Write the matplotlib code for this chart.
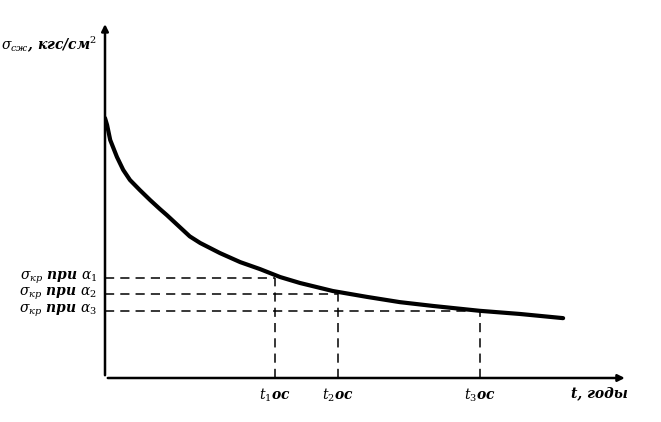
import matplotlib.pyplot as plt

# relaxation curve (arbitrary units)
t_vals = [0.00, 0.04, 0.10, 0.23, 0.35, 0.48, 0.67, 0.87, 1.06, 1.19, 1.63, 1.83,
          2.21, 2.60, 2.98, 3.37, 3.75, 4.38, 5.04, 5.67, 6.31, 7.21, 7.98, 8.81]
sigma_vals = [7.47, 7.27, 6.84, 6.35, 5.98, 5.69, 5.40, 5.11, 4.85, 4.68, 4.07, 3.88,
              3.59, 3.33, 3.13, 2.90, 2.73, 2.50, 2.33, 2.18, 2.07, 1.93, 1.84, 1.72]

# critical points t_i ос / σкр при α_i
t_crit = [3.27, 4.48, 7.21]
sigma_crit = [2.87, 2.41, 1.93]
y_labels = [r'$\sigma_{кр}$ при $\alpha_1$', r'$\sigma_{кр}$ при $\alpha_2$', r'$\sigma_{кр}$ при $\alpha_3$']
x_labels = [r'$t_1$ос', r'$t_2$ос', r'$t_3$ос']

plt.rcParams['mathtext.fontset'] = 'dejavuserif'
plt.rcParams['font.family'] = 'DejaVu Serif'

fig = plt.figure(figsize=(6.61, 4.22), dpi=100)
ax = fig.add_axes([105 / 661, 44 / 422, 520 / 661, 348 / 422])
ax.set_xlim(0, 10)
ax.set_ylim(0, 10)
ax.axis('off')

# axes with arrows
ax.annotate('', xy=(0, 10.25), xytext=(0, 0),
            arrowprops=dict(arrowstyle='-|>', lw=1.8, color='k', mutation_scale=10),
            annotation_clip=False)
ax.annotate('', xy=(10.05, 0), xytext=(0, 0),
            arrowprops=dict(arrowstyle='-|>', lw=1.8, color='k', mutation_scale=10),
            annotation_clip=False)

ax.plot(t_vals, sigma_vals, color='k', lw=3, solid_capstyle='round', solid_joinstyle='round')

for tc, sc, yl, xl in zip(t_crit, sigma_crit, y_labels, x_labels):
    ax.plot([0, tc], [sc, sc], color='k', lw=1.1, ls=(0, (6, 4)))
    ax.plot([tc, tc], [0, sc], color='k', lw=1.1, ls=(0, (6, 4)))
    ax.text(-0.15, sc, yl, ha='right', va='center', fontsize=10, style='italic', fontweight='bold')
    ax.text(tc, -0.25, xl, ha='center', va='top', fontsize=10, style='italic', fontweight='bold')

ax.text(-0.15, 9.6, r'$\sigma_{сж}$, кгс/см$^2$', ha='right', va='center',
        fontsize=10, style='italic', fontweight='bold')
ax.text(10.05, -0.25, 't, годы', ha='right', va='top', fontsize=10,
        style='italic', fontweight='bold')

fig.savefig('out.png', dpi=100)
